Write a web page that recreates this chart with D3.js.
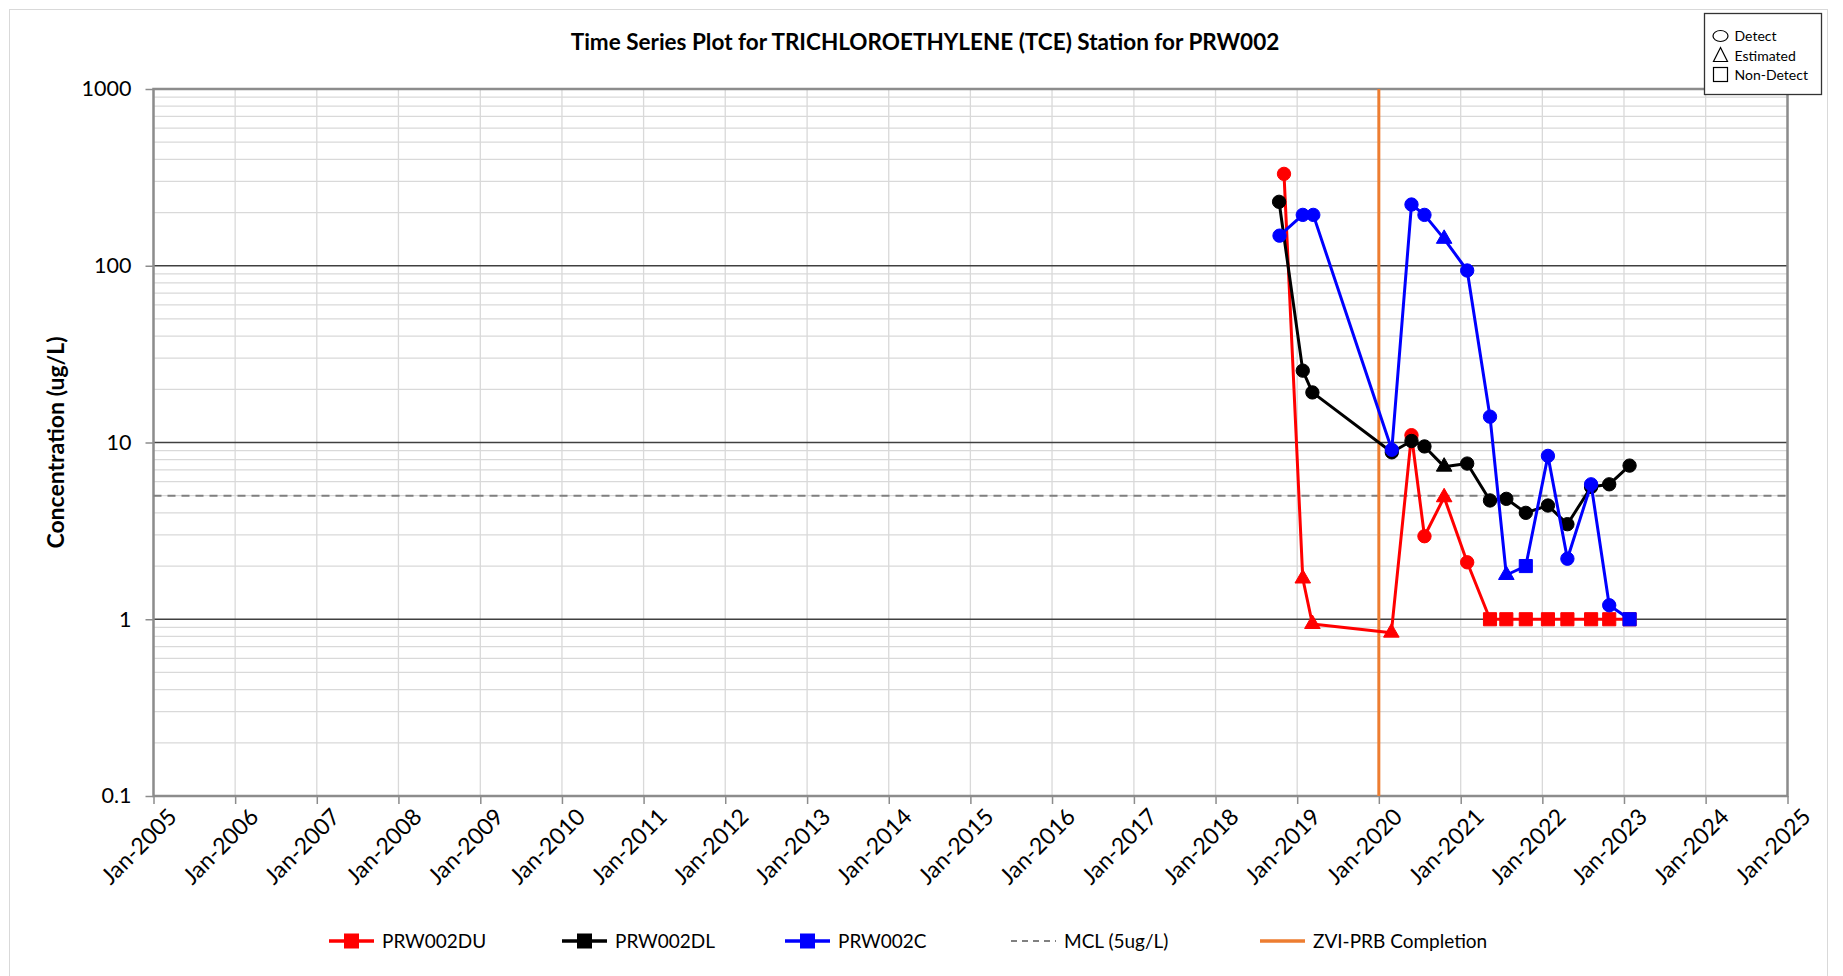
<!DOCTYPE html>
<html>
<head>
<meta charset="utf-8">
<script src="https://cdn.jsdelivr.net/npm/d3@7"></script>
<style>
  html, body { margin: 0; padding: 0; background: #ffffff; }
  svg { display: block; }
  text { font-family: Lato, "Open Sans", sans-serif; fill: #000; }
</style>
</head>
<body>
<script>
// ---- Chart data -------------------------------------------------------
const chartTitle = "Time Series Plot for TRICHLOROETHYLENE (TCE) Station for PRW002";
const yAxisTitle = "Concentration (ug/L)";
const yTickValues = [0.1, 1, 10, 100, 1000];
const yTickLabels = ["0.1", "1", "10", "100", "1000"];
const xTickYears = d3.range(2005, 2026);

const seriesNames = ["PRW002DU", "PRW002DL", "PRW002C"];
const seriesColors = ["#ff0000", "#000000", "#0000ff"];

// PRW002DU  (D = detect, E = estimated, N = non-detect)
const duDates = ["2018-11-03", "2019-01-26", "2019-03-10", "2020-02-26", "2020-05-26", "2020-07-23",
  "2020-10-19", "2021-01-30", "2021-05-12", "2021-07-24", "2021-10-19", "2022-01-26",
  "2022-04-23", "2022-08-07", "2022-10-27", "2023-01-26"];
const duValues = [331, 1.7, 0.94, 0.84, 11.0, 2.95, 4.9, 2.1, 1, 1, 1, 1, 1, 1, 1, 1];
const duFlags = ["D", "E", "E", "E", "D", "D", "E", "D", "N", "N", "N", "N", "N", "N", "N", "N"];

// PRW002DL
const dlDates = ["2018-10-12", "2019-01-26", "2019-03-10", "2020-02-28", "2020-05-26", "2020-07-23",
  "2020-10-19", "2021-01-30", "2021-05-12", "2021-07-24", "2021-10-19", "2022-01-26",
  "2022-04-23", "2022-08-07", "2022-10-27", "2023-01-26"];
const dlValues = [230, 25.5, 19.2, 8.8, 10.2, 9.5, 7.3, 7.6, 4.7, 4.8, 4.0, 4.4, 3.45, 5.6, 5.8, 7.4];
const dlFlags = ["D", "D", "D", "D", "D", "D", "E", "D", "D", "D", "D", "D", "D", "D", "D", "D"];

// PRW002C
const cDates = ["2018-10-14", "2019-01-26", "2019-03-14", "2020-02-28", "2020-05-26", "2020-07-23",
  "2020-10-19", "2021-01-30", "2021-05-12", "2021-07-24", "2021-10-19", "2022-01-26",
  "2022-04-23", "2022-08-07", "2022-10-27", "2023-01-26"];
const cValues = [148, 194, 194, 9.1, 222, 194, 142, 94, 14, 1.78, 2.0, 8.4, 2.2, 5.8, 1.2, 1.0];
const cFlags = ["D", "D", "D", "D", "D", "D", "E", "D", "D", "E", "N", "D", "D", "D", "D", "N"];

const mclValue = 5;
const mclLabel = "MCL (5ug/L)";
const prbDate = "2020-01-01";
const prbLabel = "ZVI-PRB Completion";
const qualifierLabels = ["Detect", "Estimated", "Non-Detect"];

// ---- Layout -----------------------------------------------------------
const W = 1843, H = 976;
const plot = { left: 153.5, right: 1787.5, top: 89, bottom: 796 };
const parse = d3.timeParse("%Y-%m-%d");

const svg = d3.select("body").append("svg").attr("width", W).attr("height", H);

// outer chart frame
svg.append("rect").attr("x", 9.5).attr("y", 9.5).attr("width", 1818).attr("height", 990)
  .attr("fill", "none").attr("stroke", "#d9d9d9").attr("stroke-width", 1);

const x = d3.scaleTime()
  .domain([new Date(2005, 0, 1), new Date(2025, 0, 1)])
  .range([plot.left, plot.right]);
const y = d3.scaleLog().domain([0.1, 1000]).range([plot.bottom, plot.top]);

// ---- Gridlines --------------------------------------------------------
const grid = svg.append("g");
const minorVals = [];
for (let e = -1; e < 3; e++) for (let m = 2; m <= 9; m++) minorVals.push(m * Math.pow(10, e));
grid.selectAll("line.minor").data(minorVals).join("line")
  .attr("x1", plot.left).attr("x2", plot.right)
  .attr("y1", d => y(d)).attr("y2", d => y(d))
  .attr("stroke", "#d9d9d9").attr("stroke-width", 1.3);
grid.selectAll("line.vgrid").data(xTickYears).join("line")
  .attr("x1", d => x(new Date(d, 0, 1))).attr("x2", d => x(new Date(d, 0, 1)))
  .attr("y1", plot.top).attr("y2", plot.bottom)
  .attr("stroke", "#d9d9d9").attr("stroke-width", 1.3);
grid.selectAll("line.major").data([1, 10, 100]).join("line")
  .attr("x1", plot.left).attr("x2", plot.right)
  .attr("y1", d => y(d)).attr("y2", d => y(d))
  .attr("stroke", "#404040").attr("stroke-width", 1.3);

// ---- Axes -------------------------------------------------------------
const yAxis = d3.axisLeft(y).tickValues(yTickValues)
  .tickFormat((d, i) => yTickLabels[i]).tickSize(8).tickPadding(14);
const gy = svg.append("g").attr("transform", `translate(${plot.left},0)`).call(yAxis);
gy.select(".domain").remove();
gy.selectAll(".tick line").attr("stroke", "#8c8c8c").attr("stroke-width", 1.5);
gy.selectAll(".tick text").attr("font-size", 21.5).attr("font-family", "Lato, sans-serif").attr("fill", "#000");

const xAxis = d3.axisBottom(x).tickValues(xTickYears.map(v => new Date(v, 0, 1)))
  .tickFormat(d3.timeFormat("%b-%Y")).tickSize(8).tickPadding(4);
const gx = svg.append("g").attr("transform", `translate(0,${plot.bottom})`).call(xAxis);
gx.select(".domain").remove();
gx.selectAll(".tick line").attr("stroke", "#8c8c8c").attr("stroke-width", 1.5);
gx.selectAll(".tick text")
  .attr("font-size", 23).attr("font-family", "Lato, sans-serif").attr("fill", "#000")
  .attr("text-anchor", "end")
  .attr("transform", "translate(6,4) rotate(-45)")
  .attr("dy", "0.6em").attr("dx", "0");

// plot border
svg.append("rect").attr("x", plot.left).attr("y", plot.top)
  .attr("width", plot.right - plot.left).attr("height", plot.bottom - plot.top)
  .attr("fill", "none").attr("stroke", "#8c8c8c").attr("stroke-width", 2.5);

// ---- Reference lines --------------------------------------------------
svg.append("line")
  .attr("x1", plot.left).attr("x2", plot.right)
  .attr("y1", y(mclValue)).attr("y2", y(mclValue))
  .attr("stroke", "#808080").attr("stroke-width", 2).attr("stroke-dasharray", "8,6");
svg.append("line")
  .attr("x1", x(parse(prbDate))).attr("x2", x(parse(prbDate)))
  .attr("y1", plot.top).attr("y2", plot.bottom)
  .attr("stroke", "#ed7d31").attr("stroke-width", 3);

// ---- Series -----------------------------------------------------------
const seriesDates = [duDates, dlDates, cDates];
const seriesValues = [duValues, dlValues, cValues];
const seriesFlags = [duFlags, dlFlags, cFlags];

const symbolFor = f => f === "E" ? d3.symbolTriangle : (f === "N" ? d3.symbolSquare : d3.symbolCircle);
const sizeFor = f => f === "E" ? 105 : (f === "N" ? 172 : 140);

const line = d3.line().x(d => x(d.date)).y(d => y(d.value));

seriesNames.forEach((name, s) => {
  const pts = seriesDates[s].map((d, i) => ({ date: parse(d), value: seriesValues[s][i], flag: seriesFlags[s][i] }));
  const g = svg.append("g");
  g.append("path").datum(pts).attr("d", line)
    .attr("fill", "none").attr("stroke", seriesColors[s]).attr("stroke-width", 3)
    .attr("stroke-linejoin", "round");
  g.selectAll("path.mk").data(pts).join("path")
    .attr("transform", d => `translate(${x(d.date)},${y(d.value)})`)
    .attr("d", d => d3.symbol().type(symbolFor(d.flag)).size(sizeFor(d.flag))())
    .attr("fill", seriesColors[s]).attr("stroke", seriesColors[s]).attr("stroke-width", 1);
});

// ---- Titles -----------------------------------------------------------
svg.append("text").attr("x", 925).attr("y", 50).attr("text-anchor", "middle")
  .attr("font-size", 22.5).attr("font-weight", "bold").text(chartTitle);
svg.append("text").attr("transform", `translate(64,${(plot.top + plot.bottom) / 2}) rotate(-90)`)
  .attr("text-anchor", "middle").attr("font-size", 23).attr("font-weight", "bold").text(yAxisTitle);

// ---- Bottom legend ----------------------------------------------------
const legY = 941;
const legItems = [
  { label: seriesNames[0], color: seriesColors[0], type: "marker", x: 329 },
  { label: seriesNames[1], color: seriesColors[1], type: "marker", x: 562 },
  { label: seriesNames[2], color: seriesColors[2], type: "marker", x: 785 },
  { label: mclLabel, color: "#808080", type: "dash", x: 1011 },
  { label: prbLabel, color: "#ed7d31", type: "solid", x: 1260 }
];
const leg = svg.append("g");
legItems.forEach(it => {
  const gi = leg.append("g").attr("transform", `translate(${it.x},${legY})`);
  gi.append("line").attr("x1", 0).attr("x2", 45).attr("y1", 0).attr("y2", 0)
    .attr("stroke", it.color)
    .attr("stroke-width", it.type === "dash" ? 2 : 3.5)
    .attr("stroke-dasharray", it.type === "dash" ? "6,5" : null);
  if (it.type === "marker") {
    gi.append("rect").attr("x", 15).attr("y", -7.5).attr("width", 15).attr("height", 15).attr("fill", it.color);
  }
  gi.append("text").attr("x", 53).attr("y", 7).attr("font-size", 19).text(it.label);
});

// ---- Qualifier legend (top right) ------------------------------------
const q = svg.append("g").attr("transform", "translate(1704.5,13.5)");
q.append("rect").attr("width", 117).attr("height", 81).attr("fill", "#fff")
  .attr("stroke", "#333").attr("stroke-width", 1.3);
const qy = [22.5, 42, 61];
q.append("ellipse").attr("cx", 16).attr("cy", qy[0]).attr("rx", 7.5).attr("ry", 5.5)
  .attr("fill", "none").attr("stroke", "#000").attr("stroke-width", 1.2);
q.append("path").attr("d", `M16,${qy[1] - 8} L23,${qy[1] + 6} L9,${qy[1] + 6} Z`)
  .attr("fill", "none").attr("stroke", "#000").attr("stroke-width", 1.2);
q.append("rect").attr("x", 9).attr("y", qy[2] - 7).attr("width", 14).attr("height", 14)
  .attr("fill", "none").attr("stroke", "#000").attr("stroke-width", 1.2);
qualifierLabels.forEach((lbl, i) => {
  q.append("text").attr("x", 30).attr("y", qy[i] + 5)
    .attr("font-family", "'Liberation Sans', Arial, sans-serif")
    .attr("font-size", 14).text(lbl);
});
</script>
</body>
</html>
